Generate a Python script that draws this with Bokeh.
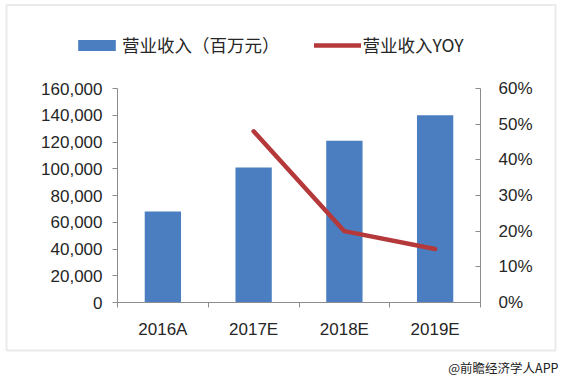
from bokeh.plotting import figure
from bokeh.models import (Range1d, LinearAxis, NumeralTickFormatter, FixedTicker,
                          Legend, LegendItem, Label, ColumnDataSource, BoxAnnotation)
from bokeh.embed import file_html
from bokeh.resources import INLINE

# ---- data ----
categories = ["2016A", "2017E", "2018E", "2019E"]
revenue = [68000, 101000, 121000, 140000]          # 营业收入（百万元）
yoy_categories = ["2017E", "2018E", "2019E"]
yoy = [0.48, 0.20, 0.15]                           # 营业收入YOY
left_ticks = [0, 20000, 40000, 60000, 80000, 100000, 120000, 140000, 160000]
right_ticks = [0, 0.1, 0.2, 0.3, 0.4, 0.5, 0.6]

BLUE = "#4A7EC0"
RED = "#B5393B"
TXT = "#262626"
AX = "#8C8C8C"
FONT = "Liberation Sans"
CJK = "Noto Sans CJK SC"

# ---- layout (page pixels) ----
W, H = 560, 378          # canvas size
OX, OY = 0, 0            # canvas position on the page
PX_L, PX_R = 117, 480    # plot area left/right (page px)
PX_T, PX_B = 88, 302     # plot area top/bottom (page px)

n = len(categories)
ymax = left_ticks[-1]
rmax = right_ticks[-1]
sx = (PX_R - PX_L) / n
sy = (PX_B - PX_T) / ymax
sr = (PX_B - PX_T) / rmax


def px2x(px):
    return (px - PX_L) / sx


def px2y(py):
    return (PX_B - py) / sy


x_range = Range1d(px2x(OX), px2x(OX + W))
y_range = Range1d(px2y(OY + H), px2y(OY))
r_range = Range1d((PX_B - (OY + H)) / sr, (PX_B - OY) / sr)

x_pos = [i + 0.5 for i in range(n)]
yoy_x = [categories.index(c) + 0.5 for c in yoy_categories]

bar_src = ColumnDataSource(dict(x=x_pos, rev=revenue, cat=categories))
line_src = ColumnDataSource(dict(x=yoy_x, yoy=yoy, cat=yoy_categories))

p = figure(width=W, height=H, output_backend="svg", toolbar_location=None,
           title=None, x_range=x_range, y_range=y_range, min_border=0,
           x_axis_type=None, y_axis_type=None)
p.outline_line_color = None
p.xgrid.visible = False
p.ygrid.visible = False
p.background_fill_color = "white"
p.border_fill_color = "white"
p.extra_y_ranges = {"yoy": r_range}

bars = p.vbar(x="x", top="rev", width=0.4, source=bar_src, fill_color=BLUE,
              line_color=None)
line = p.line(x="x", y="yoy", source=line_src, y_range_name="yoy",
              line_color=RED, line_width=4.5, line_cap="round", line_join="round")

# x axis: labels at category centers, ticks at category boundaries
xa = LinearAxis(fixed_location=0, bounds=(0, n),
                ticker=FixedTicker(ticks=x_pos, minor_ticks=list(range(n + 1))))
xa.major_label_overrides = {x: c for x, c in zip(x_pos, categories)}
xa.major_tick_out = 0
xa.major_tick_in = 0
xa.minor_tick_out = 5
xa.minor_tick_in = 0
xa.minor_tick_line_color = AX
xa.axis_line_color = AX
xa.major_label_standoff = 12
xa.major_label_text_font = FONT
xa.major_label_text_font_size = "17px"
xa.major_label_text_color = TXT
p.add_layout(xa, "below")

ya = LinearAxis(fixed_location=0, bounds=(0, ymax),
                ticker=FixedTicker(ticks=left_ticks, minor_ticks=[]),
                formatter=NumeralTickFormatter(format="0,0"))
ya.major_tick_out = 5
ya.major_tick_in = 0
ya.minor_tick_out = 0
ya.axis_line_color = AX
ya.major_tick_line_color = AX
ya.major_label_standoff = 10
ya.major_label_text_font = FONT
ya.major_label_text_font_size = "17px"
ya.major_label_text_color = TXT
p.add_layout(ya, "left")

ra = LinearAxis(y_range_name="yoy", fixed_location=n, bounds=(0, rmax),
                ticker=FixedTicker(ticks=right_ticks, minor_ticks=[]),
                formatter=NumeralTickFormatter(format="0%"))
ra.major_tick_out = 0
ra.major_tick_in = 5
ra.minor_tick_out = 0
ra.axis_line_color = AX
ra.major_tick_line_color = AX
ra.major_label_standoff = 18
ra.major_label_text_font = FONT
ra.major_label_text_font_size = "17px"
ra.major_label_text_color = TXT
p.add_layout(ra, "right")

legend = Legend(items=[LegendItem(label="营业收入（百万元）", renderers=[bars]),
                       LegendItem(label="营业收入YOY", renderers=[line])],
                orientation="horizontal", location=(73 - OX, OY + H - 57),
                padding=0, margin=0, spacing=34, glyph_width=47, glyph_height=14,
                label_standoff=2, label_text_font=CJK, label_text_font_size="17.5px",
                label_text_color=TXT, border_line_color=None, background_fill_alpha=0)
p.add_layout(legend)

# outer frame of the chart
p.add_layout(BoxAnnotation(left=px2x(6), right=px2x(555), top=px2y(4.5), bottom=px2y(350),
                           fill_alpha=0, line_color="#B8B8B8", line_width=2))

p.add_layout(Label(x=px2x(558), y=px2y(367), text="@前瞻经济学人APP",
                   text_align="right", text_baseline="middle",
                   text_font=CJK, text_font_size="12.5px", text_color="#222222"))

open("out.html", "w").write(file_html(p, INLINE))
